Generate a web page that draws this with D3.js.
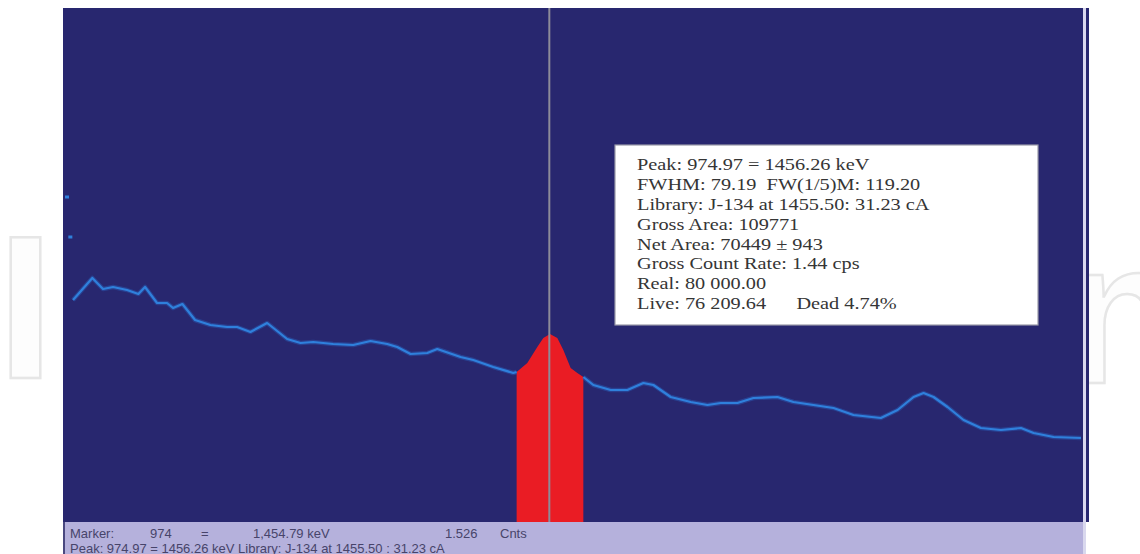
<!DOCTYPE html>
<html>
<head>
<meta charset="utf-8">
<script src="https://cdn.jsdelivr.net/npm/d3@7"></script>
<style>
  html, body { margin: 0; padding: 0; background: #ffffff; }
  svg { display: block; }
</style>
</head>
<body>
<svg id="chart" width="1140" height="554"></svg>
<script>
// Gamma spectrum: channel number vs. counts
const channels = [260, 289, 305, 320, 341, 358, 368, 386, 401, 410, 424, 443, 466, 491, 506, 526,
  551, 581, 601, 620, 650, 680, 706, 731, 746, 766, 791, 806, 841, 860, 890, 920,
  925, 941, 956, 965, 975, 986, 995, 1006, 1016, 1025,
  1040, 1066, 1091, 1115, 1130, 1156, 1186, 1211, 1231, 1256, 1280, 1316, 1340, 1370, 1400,
  1430, 1471, 1496, 1520, 1535, 1550, 1571, 1595, 1621, 1651, 1681, 1700, 1730, 1771];
const counts = [888, 976, 932, 940, 928, 912, 940, 876, 876, 856, 872, 808, 788, 780, 780, 760,
  796, 732, 716, 720, 712, 708, 724, 712, 700, 672, 676, 692, 660, 648, 620, 596,
  600, 636, 700, 736, 752, 736, 688, 616, 596, 580,
  548, 528, 528, 556, 548, 500, 480, 468, 476, 476, 496, 500, 480, 468, 456,
  428, 416, 448, 500, 516, 500, 460, 408, 376, 368, 376, 356, 340, 336];

// isolated high-count channels near the left edge
const strayChannels = [251, 256];
const strayCounts = [1300, 1140];

// region of interest around the peak and the cursor
const roiStart = 925, roiEnd = 1025;
const markerChannel = 974;

const reportLines = [
  "Peak: 974.97 = 1456.26 keV",
  "FWHM: 79.19  FW(1/5)M: 119.20",
  "Library: J-134 at 1455.50: 31.23 cA",
  "Gross Area: 109771",
  "Net Area: 70449 \u00b1 943",
  "Gross Count Rate: 1.44 cps",
  "Real: 80 000.00",
  "Live: 76 209.64      Dead 4.74%"
];

const statusFields = [
  { text: "Marker:", at: 70 },
  { text: "974", at: 150 },
  { text: "=", at: 201 },
  { text: "1,454.79  keV", at: 253 },
  { text: "1.526", at: 445 },
  { text: "Cnts", at: 500 }
];
const statusLine2 = "Peak: 974.97 = 1456.26 keV  Library: J-134 at 1455.50 : 31.23 cA";

const data = channels.map((c, i) => ({ ch: c, n: counts[i] }));
const stray = strayChannels.map((c, i) => ({ ch: c, n: strayCounts[i] }));

const svg = d3.select("#chart");

// publisher watermark: only its outer letters show beside the display
const markStyle = sel => sel
  .style("font-family", "Liberation Sans, Arial, sans-serif")
  .style("font-weight", "bold")
  .style("font-size", "205px")
  .attr("fill", "#fdfdfd")
  .attr("stroke", "#e6e6e6")
  .attr("stroke-width", 2.5);
svg.append("text").attr("x", -3).attr("y", 378).call(markStyle).text("In");
svg.append("text").attr("x", 1062).attr("y", 383).call(markStyle).text("n");

const panel = { left: 63, right: 1089, top: 8, bottom: 522 };

svg.append("rect")
  .attr("x", panel.left).attr("y", panel.top)
  .attr("width", panel.right - panel.left).attr("height", panel.bottom - panel.top)
  .attr("fill", "#28276f");

// light frame line on the right side
svg.append("rect")
  .attr("x", 1083).attr("y", panel.top)
  .attr("width", 3).attr("height", 554 - panel.top)
  .attr("fill", "#d9d8ee");

const x = d3.scaleLinear().domain([245, 1780]).range([63, 1087]);
const y = d3.scaleLinear().domain([0, 2056]).range([panel.bottom, panel.top]);

// filled region of interest
const roi = data.filter(d => d.ch >= roiStart && d.ch <= roiEnd);
svg.append("path")
  .attr("fill", "#ea1c24")
  .attr("d", d3.area().x(d => x(d.ch)).y0(y(0)).y1(d => y(d.n))(roi));

// spectrum trace, outside the region of interest
const line = d3.line().x(d => x(d.ch)).y(d => y(d.n));
const before = data.filter(d => d.ch <= roiStart);
const after = data.filter(d => d.ch >= roiEnd);
[before, after].forEach(seg => {
  svg.append("path").attr("d", line(seg))
    .attr("fill", "none").attr("stroke", "#2a6fd0").attr("stroke-opacity", 0.35)
    .attr("stroke-width", 4.5).attr("stroke-linejoin", "round");
  svg.append("path").attr("d", line(seg))
    .attr("fill", "none").attr("stroke", "#2f80dc")
    .attr("stroke-width", 2.2).attr("stroke-linejoin", "round");
});

svg.selectAll("rect.stray").data(stray).enter().append("rect")
  .attr("class", "stray")
  .attr("x", d => x(d.ch) - 2).attr("y", d => y(d.n) - 1.5)
  .attr("width", 4).attr("height", 3)
  .attr("fill", "#2f80dc");

// cursor line
svg.append("line")
  .attr("x1", x(markerChannel)).attr("x2", x(markerChannel))
  .attr("y1", panel.top).attr("y2", panel.bottom)
  .attr("stroke", "#8d8b99").attr("stroke-width", 2);

// peak report box
const box = { x: 615, y: 145, w: 423, h: 180 };
svg.append("rect")
  .attr("x", box.x).attr("y", box.y).attr("width", box.w).attr("height", box.h)
  .attr("fill", "#ffffff").attr("stroke", "#9a9aa8").attr("stroke-width", 1.2);

svg.append("g")
  .attr("transform", "translate(637,0) scale(1.16,1)")
  .selectAll("text").data(reportLines).enter().append("text")
  .attr("x", 0)
  .attr("y", (d, i) => 170 + i * 19.9)
  .attr("xml:space", "preserve")
  .style("white-space", "pre")
  .style("font-family", "Liberation Serif, Times New Roman, serif")
  .style("font-size", "17.5px")
  .attr("fill", "#353535")
  .text(d => d);

// status bar
svg.append("rect")
  .attr("x", panel.left).attr("y", panel.bottom)
  .attr("width", 1083 - panel.left).attr("height", 554 - panel.bottom)
  .attr("fill", "#b5b1dc");
svg.append("rect")
  .attr("x", panel.left).attr("y", panel.bottom)
  .attr("width", 2).attr("height", 554 - panel.bottom)
  .attr("fill", "#4a4880");

svg.append("g").selectAll("text").data(statusFields).enter().append("text")
  .attr("x", d => d.at).attr("y", 538)
  .style("font-family", "Liberation Sans, Arial, sans-serif")
  .style("font-size", "13px")
  .attr("fill", "#47446a")
  .text(d => d.text);

svg.append("text")
  .attr("x", 70).attr("y", 553)
  .style("font-family", "Liberation Sans, Arial, sans-serif")
  .style("font-size", "13px")
  .attr("fill", "#47446a")
  .text(statusLine2);
</script>
</body>
</html>
